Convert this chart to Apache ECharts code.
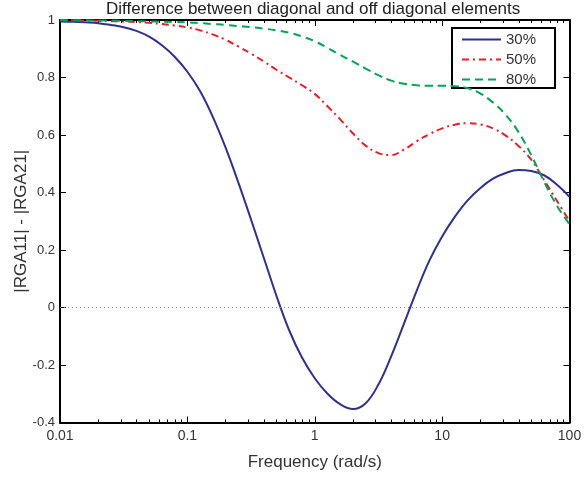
<!DOCTYPE html>
<html>
<head>
<meta charset="utf-8">
<script src="https://cdn.jsdelivr.net/npm/echarts@6/dist/echarts.min.js"></script>
<style>html,body{margin:0;padding:0;background:#fff}#c{width:587px;height:479px}</style>
</head>
<body>
<div id="c"></div>
<script>
const titleText = 'Difference between diagonal and off diagonal elements';
const xName = 'Frequency (rad/s)';
const yName = '|RGA11| - |RGA21|';
const seriesNames = ['30%', '50%', '80%'];

// frequencies (rad/s), spaced 0.1 decade apart
const freq = [0.01, 0.0126, 0.0158, 0.02, 0.0251, 0.0316, 0.0398, 0.0501, 0.0631, 0.0794,
  0.1, 0.126, 0.158, 0.2, 0.251, 0.316, 0.398, 0.501, 0.631, 0.794,
  1, 1.26, 1.58, 2, 2.51, 3.16, 3.98, 5.01, 6.31, 7.94,
  10, 12.6, 15.8, 20, 25.1, 31.6, 39.8, 50.1, 63.1, 79.4, 100];

const val30 = [0.995, 0.994, 0.992, 0.989, 0.983, 0.975, 0.962, 0.942, 0.912, 0.872,
  0.820, 0.752, 0.664, 0.555, 0.435, 0.306, 0.173, 0.040, -0.080, -0.174,
  -0.246, -0.300, -0.336, -0.353, -0.333, -0.268, -0.170, -0.057, 0.058, 0.163,
  0.247, 0.316, 0.372, 0.416, 0.448, 0.468, 0.478, 0.475, 0.460, 0.428, 0.385];

const val50 = [1.0, 0.999, 0.998, 0.997, 0.996, 0.995, 0.993, 0.990, 0.986, 0.981,
  0.974, 0.964, 0.950, 0.931, 0.908, 0.883, 0.856, 0.827, 0.800, 0.773,
  0.743, 0.700, 0.655, 0.605, 0.563, 0.537, 0.530, 0.549, 0.578, 0.603,
  0.623, 0.636, 0.641, 0.637, 0.623, 0.598, 0.562, 0.514, 0.444, 0.372, 0.30];

const val80 = [1.0, 0.999, 0.999, 0.998, 0.998, 0.997, 0.996, 0.995, 0.994, 0.993,
  0.992, 0.989, 0.986, 0.983, 0.979, 0.975, 0.970, 0.964, 0.956, 0.943,
  0.926, 0.903, 0.879, 0.855, 0.831, 0.808, 0.789, 0.778, 0.773, 0.771,
  0.771, 0.770, 0.763, 0.744, 0.713, 0.670, 0.610, 0.530, 0.438, 0.355, 0.29];

const yTicks = { min: -0.4, max: 1, interval: 0.2 };
const xRange = { min: 0.01, max: 100 };

const pairs = (xs, ys) => xs.map((x, i) => [x, ys[i]]);
const font = 'Liberation Sans, Arial, Helvetica, sans-serif';

const xBase = {
  type: 'log', logBase: 10, min: xRange.min, max: xRange.max,
  axisLine: { onZero: false, lineStyle: { color: '#000', width: 2 } },
  axisTick: { inside: true, length: 6, lineStyle: { color: '#000', width: 1 } },
  minorTick: { show: true, splitNumber: 9, length: 3, lineStyle: { color: '#000', width: 1 } },
  splitLine: { show: false },
  minorSplitLine: { show: false }
};
const yBase = {
  type: 'value', min: yTicks.min, max: yTicks.max, interval: yTicks.interval,
  axisLine: { show: true, onZero: false, lineStyle: { color: '#000', width: 2 } },
  axisTick: { show: true, inside: true, length: 6, lineStyle: { color: '#000', width: 1 } },
  splitLine: { show: false }
};

const chart = echarts.init(document.getElementById('c'));
chart.setOption({
  animation: false,
  backgroundColor: '#fff',
  textStyle: { fontFamily: font },
  title: {
    text: titleText, left: 101, top: -4,
    textStyle: { fontSize: 17, fontWeight: 'normal', color: '#222', fontFamily: font }
  },
  grid: { left: 60, right: 17.5, top: 20, bottom: 56.5 },
  legend: {
    orient: 'vertical', left: 452, top: 28,
    padding: [4, 19, 1, 9], itemGap: 5, itemWidth: 39, itemHeight: 14, itemTextGap: 9,
    backgroundColor: '#fff', borderColor: '#000', borderWidth: 2,
    itemStyle: { opacity: 0 },
    textStyle: { fontSize: 15, lineHeight: 14, color: '#333', fontFamily: font },
    data: seriesNames
  },
  xAxis: [
    Object.assign({}, xBase, {
      position: 'bottom',
      axisLabel: { color: '#333', fontSize: 14, margin: 7, fontFamily: font,
        formatter: v => String(+Number(v).toPrecision(3)) },
      name: xName, nameLocation: 'middle', nameGap: 31,
      nameTextStyle: { fontSize: 17, color: '#333', fontFamily: font }
    }),
    Object.assign({}, xBase, { position: 'top', axisLabel: { show: false } })
  ],
  yAxis: [
    Object.assign({}, yBase, {
      position: 'left',
      axisLabel: { color: '#333', fontSize: 13, margin: 5, fontFamily: font,
        formatter: v => String(+Number(v).toFixed(1)) },
      name: yName, nameLocation: 'middle', nameGap: 30, nameRotate: 90,
      nameMoveOverlap: false,
      nameTextStyle: { fontSize: 17, color: '#333', fontFamily: font }
    }),
    Object.assign({}, yBase, { position: 'right', axisLabel: { show: false } })
  ],
  series: [
    {
      name: seriesNames[0], type: 'line', smooth: 0.4, symbol: 'none',
      data: pairs(freq, val30),
      lineStyle: { color: '#2E3192', width: 2, type: 'solid' },
      itemStyle: { color: '#2E3192' },
      markLine: {
        silent: true, symbol: 'none', label: { show: false },
        lineStyle: { color: '#888', type: [1, 3], width: 1 },
        data: [{ yAxis: 0 }]
      },
      z: 3
    },
    {
      name: seriesNames[1], type: 'line', smooth: 0.4, symbol: 'none',
      data: pairs(freq, val50),
      lineStyle: { color: '#ED1C24', width: 2, type: [7, 4, 2, 4] },
      itemStyle: { color: '#ED1C24' },
      z: 4
    },
    {
      name: seriesNames[2], type: 'line', smooth: 0.4, symbol: 'none',
      data: pairs(freq, val80),
      lineStyle: { color: '#00A651', width: 2, type: [8, 5] },
      itemStyle: { color: '#00A651' },
      z: 5
    }
  ]
});
</script>
</body>
</html>
